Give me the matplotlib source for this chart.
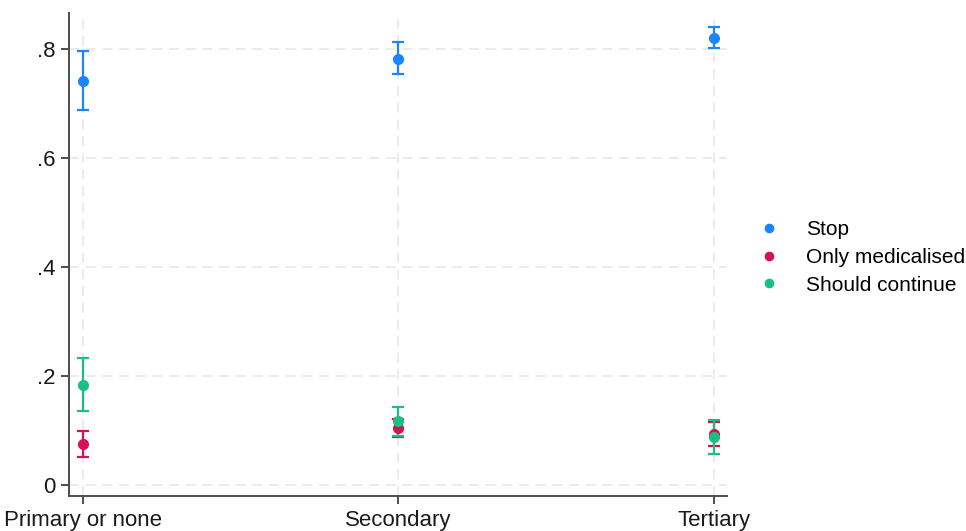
import numpy as np
import matplotlib
matplotlib.use("Agg")
import matplotlib.pyplot as plt

plt.rcParams['font.family'] = ['Liberation Sans', 'DejaVu Sans']

# Data
categories = ["Primary or none", "Secondary", "Tertiary"]
series = ["Stop", "Only medicalised", "Should continue"]
colors = ["#1a85ff", "#d41159", "#1bbf82"]

stop_est = [0.742, 0.782, 0.821]
stop_lo = [0.688, 0.754, 0.803]
stop_hi = [0.797, 0.813, 0.841]

med_est = [0.074, 0.104, 0.093]
med_lo = [0.050, 0.087, 0.070]
med_hi = [0.098, 0.121, 0.115]

cont_est = [0.183, 0.116, 0.087]
cont_lo = [0.135, 0.090, 0.056]
cont_hi = [0.233, 0.142, 0.118]

ests = [stop_est, med_est, cont_est]
los = [stop_lo, med_lo, cont_lo]
his = [stop_hi, med_hi, cont_hi]

fig = plt.figure(figsize=(9.66, 5.31), dpi=100)
ax = fig.add_axes([0.0714, 0.065, 0.6812, 0.910])

x = np.arange(len(categories))

# confidence intervals first, then the point estimates
for est, lo, hi, col in zip(ests, los, his, colors):
    est = np.array(est)
    yerr = [est - np.array(lo), np.array(hi) - est]
    ax.errorbar(x, est, yerr=yerr, fmt="none", ecolor=col, elinewidth=1.6,
                capsize=4, capthick=1.6, zorder=3)

for est, col, name in zip(ests, colors, series):
    ax.plot(x, est, "o", color=col, markersize=7, label=name, zorder=4,
            linestyle="none")

ax.set_xlim(-0.044, 2.041)
ax.set_ylim(-0.022, 0.866)
ax.set_xticks(x)
ax.set_xticklabels(categories)
ax.set_yticks([0, 0.2, 0.4, 0.6, 0.8])
ax.set_yticklabels(["0", ".2", ".4", ".6", ".8"])

ax.grid(True, color="#e8e8e8", linestyle=(0, (6, 4)), linewidth=1.2, zorder=0)
ax.set_axisbelow(True)

for side in ["top", "right"]:
    ax.spines[side].set_visible(False)
for side in ["left", "bottom"]:
    ax.spines[side].set_color("#4d4d4d")
    ax.spines[side].set_linewidth(1.4)

ax.tick_params(axis="both", which="major", labelsize=16, length=6, width=1.4,
               color="#4d4d4d", labelcolor="#1a1a1a", pad=4)

ax.legend(loc="center left", bbox_to_anchor=(1.022, 0.495), frameon=False,
          fontsize=15, handletextpad=1.2, labelspacing=0.42, markerscale=0.85,
          handlelength=1.2, borderaxespad=0.3)

fig.savefig("out.png", dpi=100, facecolor="white")
